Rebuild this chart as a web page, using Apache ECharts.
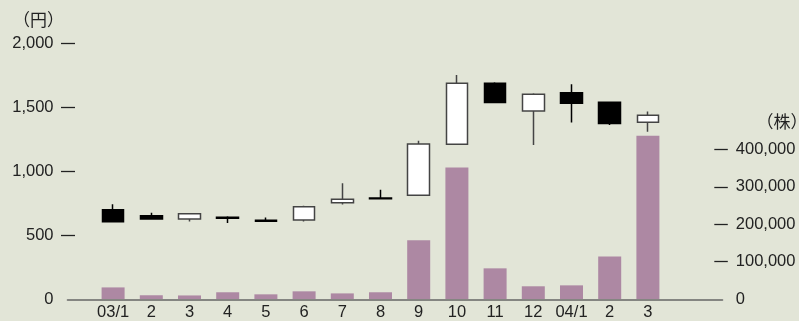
<!DOCTYPE html>
<html>
<head>
<meta charset="utf-8">
<script src="https://cdn.jsdelivr.net/npm/echarts@6/dist/echarts.min.js"></script>
<style>
html,body{margin:0;padding:0;background:#e2e5d7;}
#c{width:799px;height:321px;}
</style>
</head>
<body>
<div id="c"></div>
<script>
const categories = ['03/1','2','3','4','5','6','7','8','9','10','11','12','04/1','2','3'];
const openPrice  = [698, 651, 625, 640, 615, 617, 752, 790, 812, 1211, 1688, 1471, 1614, 1539, 1383];
const closePrice = [604, 625, 666, 632, 608, 721, 781, 784, 1213, 1688, 1536, 1602, 1531, 1372, 1438];
const lowPrice   = [604, 625, 606, 594, 603, 606, 739, 784, 812, 1205, 1536, 1205, 1380, 1360, 1309];
const highPrice  = [742, 674, 672, 648, 637, 729, 906, 854, 1237, 1752, 1695, 1609, 1680, 1539, 1466];
const volume     = [31000, 10000, 9500, 18000, 12500, 20500, 15000, 18000, 157000, 352000, 82000, 34000, 36500, 114000, 437000];
const priceTicks = [0, 500, 1000, 1500, 2000];
const volumeTicks = [0, 100000, 200000, 300000, 400000];

const candles = categories.map((c, i) => [openPrice[i], closePrice[i], lowPrice[i], highPrice[i]]);
const fmt = v => v.toLocaleString('en-US');
const FONT = 'Liberation Sans, Arial, sans-serif';

const chart = echarts.init(document.getElementById('c'), null, {renderer: 'canvas'});
chart.setOption({
  backgroundColor: '#e2e5d7',
  animation: false,
  grid: [
    {left: 94, right: 132, top: 43.3, bottom: 21.7},
    {left: 67.5, right: 76.5, top: 43.3, bottom: 21.7}
  ],
  xAxis: [
    {
      type: 'category', gridIndex: 0, data: categories, boundaryGap: true,
      axisLine: {show: false}, axisTick: {show: false}, splitLine: {show: false},
      axisLabel: {margin: 5, fontSize: 16.5, color: '#222', fontFamily: FONT, interval: 0}
    },
    {
      type: 'value', gridIndex: 1, min: 0, max: 1,
      axisLine: {show: true, lineStyle: {color: '#666', width: 1.6}},
      axisTick: {show: false}, axisLabel: {show: false}, splitLine: {show: false}
    }
  ],
  yAxis: [
    {
      type: 'value', gridIndex: 0, position: 'left', offset: 19,
      min: 0, max: 2000, interval: 500,
      axisLine: {show: false}, splitLine: {show: false},
      axisTick: {show: true, length: 14, customValues: priceTicks.slice(1), lineStyle: {color: '#222', width: 1.3}},
      axisLabel: {margin: 21.5, fontSize: 16.5, color: '#222', fontFamily: FONT, customValues: priceTicks, formatter: fmt}
    },
    {
      type: 'value', gridIndex: 0, position: 'right', offset: 47.3,
      min: 0, max: 684000, interval: 100000,
      axisLine: {show: false}, splitLine: {show: false},
      axisTick: {show: true, length: 13.5, customValues: volumeTicks.slice(1), lineStyle: {color: '#222', width: 1.3}},
      axisLabel: {margin: 21.5, fontSize: 16.5, color: '#222', fontFamily: FONT, customValues: volumeTicks, formatter: fmt}
    },
    {
      type: 'value', gridIndex: 1, show: false, min: 0, max: 1
    }
  ],
  graphic: [
    {type: 'text', left: 13, top: 11.5, style: {text: '（円）', font: '17px "Noto Sans CJK JP"', fill: '#222'}},
    {type: 'text', left: 756.5, top: 113, style: {text: '（株）', font: '17px "Noto Sans CJK JP"', fill: '#222'}}
  ],
  series: [
    {
      type: 'bar', name: 'volume', xAxisIndex: 0, yAxisIndex: 1,
      data: volume, barWidth: 23,
      itemStyle: {color: '#ad88a3'}, z: 1
    },
    {
      type: 'candlestick', name: 'price', xAxisIndex: 0, yAxisIndex: 0,
      data: candles, barWidth: 22,
      itemStyle: {color: '#ffffff', color0: '#000000', borderColor: '#444444', borderColor0: '#000000', borderWidth: 1.5},
      z: 3
    }
  ]
});
</script>
</body>
</html>
